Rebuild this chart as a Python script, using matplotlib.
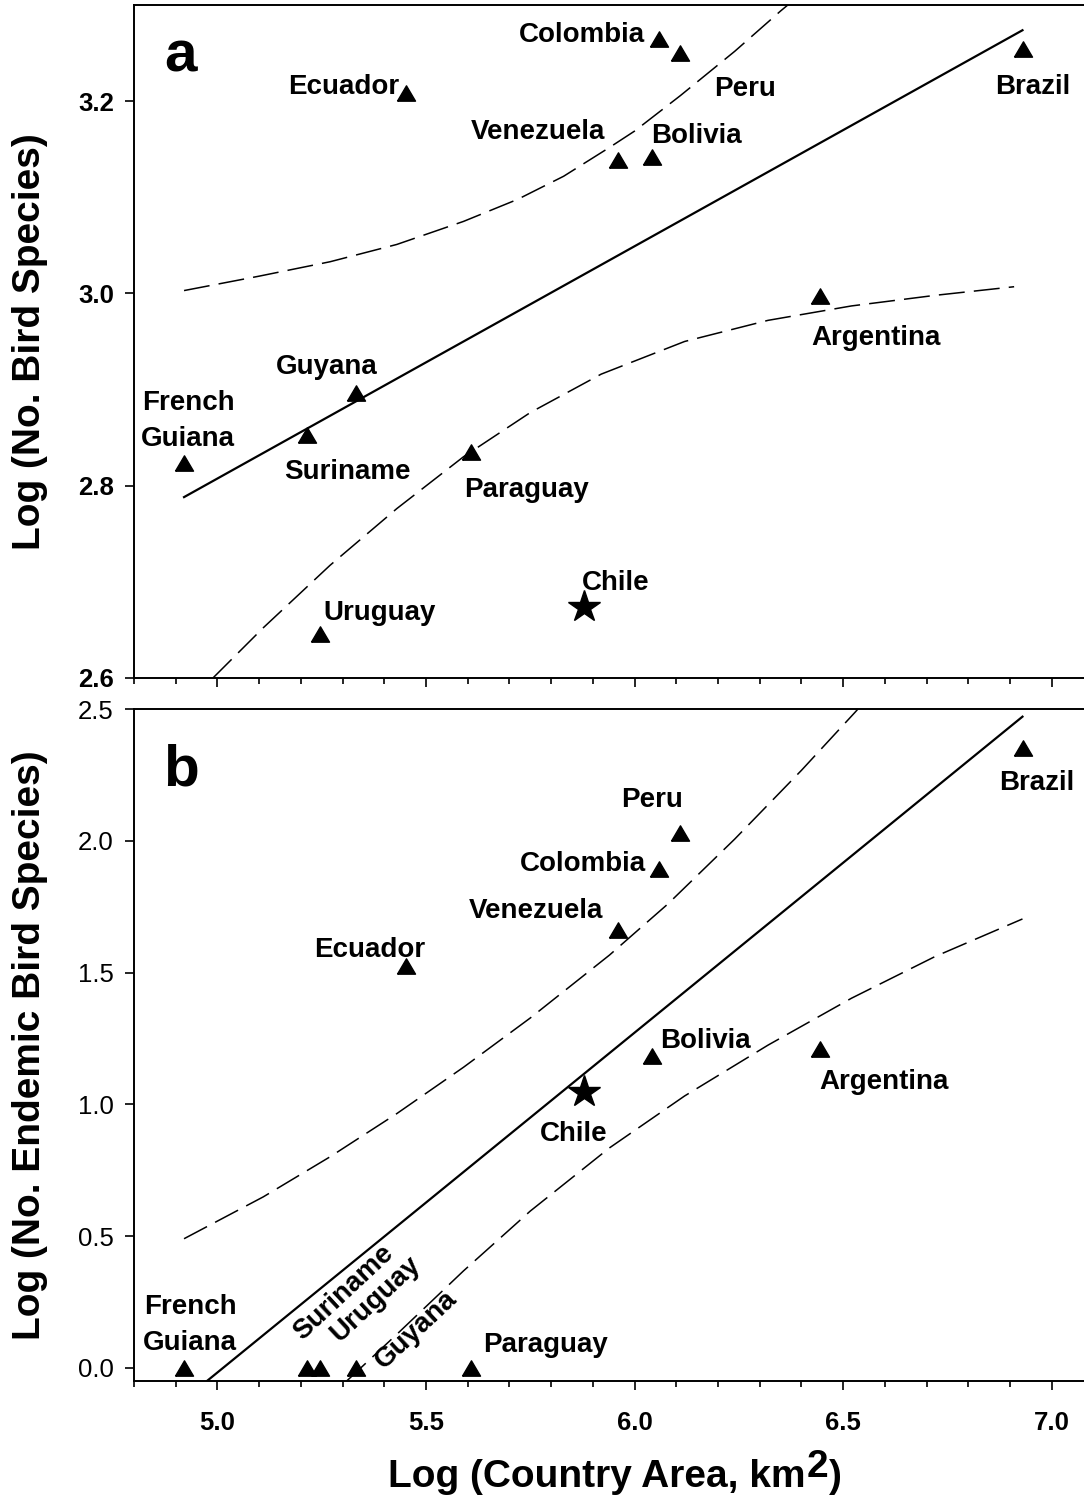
import matplotlib
matplotlib.use('Agg')
import matplotlib.pyplot as plt
from matplotlib.ticker import MultipleLocator

plt.rcParams['font.family'] = ['Liberation Sans', 'DejaVu Sans']
plt.rcParams['font.weight'] = 'bold'

# country data (log10 values)
countries = ['French Guiana', 'Suriname', 'Guyana', 'Uruguay', 'Paraguay', 'Ecuador', 'Chile',
             'Venezuela', 'Bolivia', 'Colombia', 'Peru', 'Argentina', 'Brazil']
log_area = [4.920, 5.214, 5.332, 5.246, 5.608, 5.452, 5.878, 5.960, 6.041, 6.058, 6.110, 6.444, 6.931]
log_species = [2.824, 2.853, 2.896, 2.646, 2.835, 3.209, 2.674, 3.139, 3.142, 3.265, 3.250, 2.997, 3.254]
log_endemic = [0.0, 0.0, 0.0, 0.0, 0.0, 1.525, 1.046, 1.662, 1.183, 1.894, 2.029, 1.210, 2.354]

# regression line and 95% bands, panel a
fit_a_x = [4.92, 6.93]
fit_a_y = [2.788, 3.274]
upper_a_x = [4.92, 5.10, 5.27, 5.43, 5.59, 5.72, 5.83, 5.94, 6.00, 6.11, 6.24, 6.35, 6.40]
upper_a_y = [3.003, 3.018, 3.033, 3.051, 3.075, 3.098, 3.122, 3.152, 3.169, 3.206, 3.252, 3.294, 3.312]
lower_a_x = [4.99, 5.11, 5.27, 5.43, 5.59, 5.75, 5.92, 6.12, 6.32, 6.52, 6.72, 6.91]
lower_a_y = [2.600, 2.652, 2.717, 2.776, 2.830, 2.876, 2.916, 2.950, 2.972, 2.987, 2.998, 3.007]

# regression line and 95% bands, panel b
fit_b_x = [4.92, 6.93]
fit_b_y = [-0.121, 2.472]
upper_b_x = [4.92, 5.11, 5.27, 5.43, 5.59, 5.75, 5.94, 6.08, 6.24, 6.40, 6.53, 6.56]
upper_b_y = [0.490, 0.649, 0.801, 0.965, 1.141, 1.328, 1.567, 1.761, 2.007, 2.268, 2.491, 2.545]
lower_b_x = [5.31, 5.43, 5.59, 5.75, 5.94, 6.12, 6.32, 6.52, 6.72, 6.93]
lower_b_y = [-0.050, 0.127, 0.368, 0.595, 0.835, 1.032, 1.225, 1.403, 1.561, 1.704]

# label placement: (country, text, dx, dy, rotation) offsets in pixels
labels_a = [
    ('French Guiana', 'French', 4, 53, 0), ('French Guiana', 'Guiana', 4, 17, 0),
    ('Suriname', 'Suriname', 41, -44, 0), ('Guyana', 'Guyana', -29, 19, 0),
    ('Uruguay', 'Uruguay', 60, 14, 0), ('Paraguay', 'Paraguay', 55, -45, 0),
    ('Ecuador', 'Ecuador', -62, -1, 0), ('Chile', 'Chile', 32, 17, 0),
    ('Venezuela', 'Venezuela', -80, 21, 0), ('Bolivia', 'Bolivia', 45, 14, 0),
    ('Colombia', 'Colombia', -77, -3, 0), ('Peru', 'Peru', 65, -43, 0),
    ('Argentina', 'Argentina', 56, -49, 0), ('Brazil', 'Brazil', 10, -45, 0),
]
labels_b = [
    ('French Guiana', 'French', 6, 54, 0), ('French Guiana', 'Guiana', 6, 18, 0),
    ('Suriname', 'Suriname', 37, 75, 43), ('Uruguay', 'Uruguay', 56, 69, 43),
    ('Guyana', 'Guyana', 60, 38, 43), ('Paraguay', 'Paraguay', 74, 16, 0),
    ('Ecuador', 'Ecuador', -36, 9, 0), ('Chile', 'Chile', -10, -49, 0),
    ('Venezuela', 'Venezuela', -82, 12, 0), ('Bolivia', 'Bolivia', 54, 8, 0),
    ('Colombia', 'Colombia', -76, -2, 0), ('Peru', 'Peru', -28, 26, 0),
    ('Argentina', 'Argentina', 64, -40, 0), ('Brazil', 'Brazil', 14, -42, 0),
]

tri = [(-1, -0.85), (1, -0.85), (0, 0.85), (-1, -0.85)]
dash = (0, (17, 6))

fig = plt.figure(figsize=(10.84, 15.04), dpi=100)
ax_a = fig.add_axes([0.1236, 0.5494, 0.8764, 0.4471])
ax_b = fig.add_axes([0.1236, 0.0818, 0.8764, 0.4466])


def draw_panel(ax, yvals, fit_x, fit_y, up_x, up_y, lo_x, lo_y, labels):
    ax.plot(fit_x, fit_y, color='k', lw=1.6, zorder=2)
    ax.plot(up_x, up_y, color='k', lw=1.1, ls=dash, zorder=2)
    ax.plot(lo_x, lo_y, color='k', lw=1.1, ls=dash, zorder=2)
    for c, x, y in zip(countries, log_area, yvals):
        if c == 'Chile':
            ax.plot(x, y, marker='*', ms=24, color='k', ls='none', zorder=4)
        else:
            ax.plot(x, y, marker=tri, ms=13, color='k', ls='none', zorder=4)
    pos = dict(zip(countries, zip(log_area, yvals)))
    for c, txt, dx, dy, rot in labels:
        ax.annotate(txt, pos[c], xytext=(dx, dy), textcoords='offset pixels',
                    ha='center', va='center' if rot else 'baseline',
                    rotation=rot, rotation_mode='anchor', fontsize=20, fontweight='bold')
    ax.spines['right'].set_visible(False)
    for s in ('top', 'left', 'bottom'):
        ax.spines[s].set_linewidth(1.4)
    ax.set_xlim(4.8, 7.0775)
    ax.xaxis.set_major_locator(MultipleLocator(0.5))
    ax.xaxis.set_minor_locator(MultipleLocator(0.1))
    ax.tick_params(axis='both', which='major', direction='out', length=6.5, width=1.2, labelsize=18.5)
    ax.tick_params(axis='x', which='minor', direction='out', length=4.3, width=1.2)
    ax.tick_params(axis='y', which='major', pad=8)
    ax.tick_params(axis='x', which='major', pad=15)


draw_panel(ax_a, log_species, fit_a_x, fit_a_y, upper_a_x, upper_a_y, lower_a_x, lower_a_y, labels_a)
draw_panel(ax_b, log_endemic, fit_b_x, fit_b_y, upper_b_x, upper_b_y, lower_b_x, lower_b_y, labels_b)

ax_a.set_ylim(2.6, 3.3)
ax_a.set_yticks([2.6, 2.8, 3.0, 3.2], ['2.6', '2.8', '3.0', '3.2'], fontweight='bold')
ax_a.tick_params(axis='x', labelbottom=False)

ax_b.set_ylim(-0.05, 2.5)
ax_b.set_yticks([0.0, 0.5, 1.0, 1.5, 2.0, 2.5], ['0.0', '0.5', '1.0', '1.5', '2.0', '2.5'],
                fontweight='normal')
ax_b.set_xticks([5.0, 5.5, 6.0, 6.5, 7.0], ['5.0', '5.5', '6.0', '6.5', '7.0'], fontweight='bold')

ax_a.text(0.0316, 0.9008, 'a', transform=ax_a.transAxes, fontsize=42, fontweight='bold')
ax_b.text(0.0305, 0.886, 'b', transform=ax_b.transAxes, fontsize=42, fontweight='bold')

ax_a.set_ylabel('Log (No. Bird Species)', fontsize=28, fontweight='bold')
ax_a.yaxis.set_label_coords(-0.09, 0.5)
ax_b.set_ylabel('Log (No. Endemic Bird Species)', fontsize=28, fontweight='bold')
ax_b.yaxis.set_label_coords(-0.09, 0.5)

# x label with a full-size raised "2"
main = fig.text(388 / 1084, 1 - 1487 / 1504, 'Log (Country Area, km', fontsize=28,
                fontweight='bold', ha='left', va='baseline')
sup = ax_b.annotate('2', xy=(1, 0), xycoords=main, xytext=(1, 10), textcoords='offset pixels',
                    fontsize=28, fontweight='bold', ha='left', va='bottom')
ax_b.annotate(')', xy=(1, 0), xycoords=(sup, main), xytext=(1, 0), textcoords='offset pixels',
              fontsize=28, fontweight='bold', ha='left', va='bottom')

plt.savefig('out.png', dpi=100)
